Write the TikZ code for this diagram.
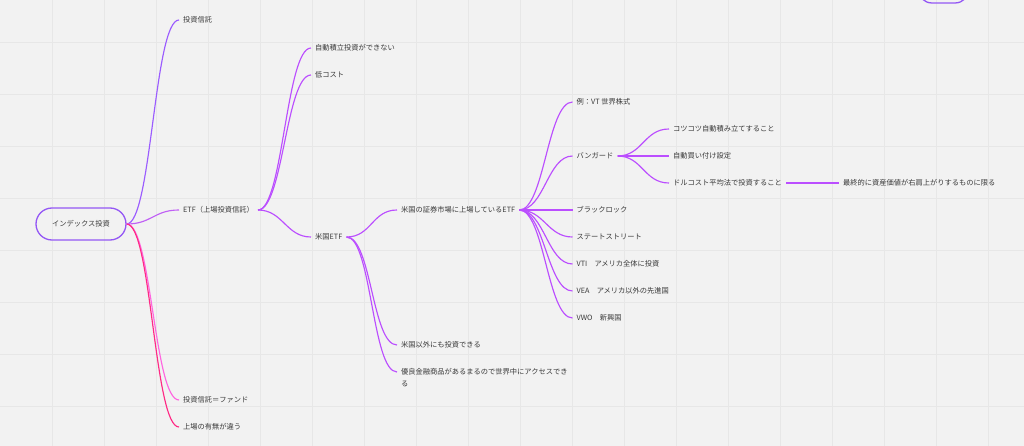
\documentclass[tikz,border=0pt]{standalone}
\usepackage{fontspec}
\setmainfont{Noto Sans CJK JP}
\definecolor{bgc}{HTML}{F2F2F2}
\definecolor{gridc}{HTML}{E7E7E7}
\definecolor{txtc}{HTML}{3A3A3A}
\definecolor{rootc}{HTML}{9457F5}
\definecolor{fundc}{HTML}{9B5CFF}
\definecolor{etfc}{HTML}{C060F5}
\definecolor{subc}{HTML}{BB4EFF}
\definecolor{pinkc}{HTML}{FF66E0}
\definecolor{redc}{HTML}{FF2A85}
\tikzset{
  topic/.style={anchor=west, inner xsep=4pt, inner ysep=0pt, text=txtc,
    font=\fontsize{7.25}{12}\selectfont, text height=6.5pt, text depth=1pt},
  rootbox/.style={draw=rootc, line width=1.3pt, rounded corners=16pt,
    minimum width=90pt, minimum height=32pt, text=txtc,
    font=\fontsize{7.25}{12}\selectfont},
  link/.style={line width=1.15pt, subc},
}
\newcommand{\branch}[3][subc]{\draw[link,#1] (#2) .. controls +(25,0) and +(-25,0) .. (#3);}
\begin{document}
\begin{tikzpicture}[x=1pt,y=-1pt]
\fill[bgc] (0,0) rectangle (1024,446);
\useasboundingbox (0,0) rectangle (1024,446);
\foreach \gx in {52,104,...,988} \draw[gridc, line width=0.7pt] (\gx,0) -- (\gx,446);
\foreach \gy in {42,94,...,406} \draw[gridc, line width=0.7pt] (0,\gy) -- (1024,\gy);
% root
\node[rootbox] (root) at (81,224) {インデックス投資};
\node[draw=rootc, line width=1.3pt, rounded corners=14pt, minimum width=51pt, minimum height=34pt] (topbox) at (943.5,-14) {};
% level 1
\node[topic] (toushin) at (179,20) {投資信託};
\node[topic] (etf) at (179,210) {ETF（上場投資信託）};
\node[topic] (fund) at (179,400) {投資信託＝ファンド};
\node[topic] (joujou) at (179,427) {上場の有無が違う};
% level 2
\node[topic] (jidou) at (311,48) {自動積立投資ができない};
\node[topic] (lowcost) at (311,75) {低コスト};
\node[topic] (usetf) at (311,237) {米国ETF};
% level 3
\node[topic] (listed) at (397,210) {米国の証券市場に上場しているETF};
\node[topic] (igai) at (397,345) {米国以外にも投資できる};
\node[topic, anchor=base west, align=left] (yuryo) at (397,386.75) {優良金融商品があるまるので世界中にアクセスでき\\る};
% level 4
\node[topic] (vt) at (572.5,102) {例：VT 世界株式};
\node[topic] (vanguard) at (572.5,156) {バンガード};
\node[topic] (black) at (572.5,210) {ブラックロック};
\node[topic] (state) at (572.5,237) {ステートストリート};
\node[topic] (vti) at (572.5,264) {VTI　アメリカ全体に投資};
\node[topic] (vea) at (572.5,291) {VEA　アメリカ以外の先進国};
\node[topic] (vwo) at (572.5,318) {VWO　新興国};
% level 5
\node[topic] (kotsu) at (669,129) {コツコツ自動積み立てすること};
\node[topic] (kaitsuke) at (669,156) {自動買い付け設定};
\node[topic] (dollar) at (669,183) {ドルコスト平均法で投資すること};
\node[topic] (saishu) at (839,183) {最終的に資産価値が右肩上がりするものに限る};
% connectors
\branch[fundc]{root.east}{toushin.west}
\branch[etfc]{root.east}{etf.west}
\branch[pinkc]{root.east}{fund.west}
\branch[redc]{root.east}{joujou.west}
\branch{etf.east}{jidou.west}
\branch{etf.east}{lowcost.west}
\branch{etf.east}{usetf.west}
\branch{usetf.east}{listed.west}
\branch{usetf.east}{igai.west}
\branch{usetf.east}{[yshift=14.75pt]yuryo.base west}
\branch{listed.east}{vt.west}
\branch{listed.east}{vanguard.west}
\branch{listed.east}{black.west}
\branch{listed.east}{state.west}
\branch{listed.east}{vti.west}
\branch{listed.east}{vea.west}
\branch{listed.east}{vwo.west}
\branch{vanguard.east}{kotsu.west}
\branch{vanguard.east}{kaitsuke.west}
\branch{vanguard.east}{dollar.west}
\branch{dollar.east}{saishu.west}
\end{tikzpicture}
\end{document}
